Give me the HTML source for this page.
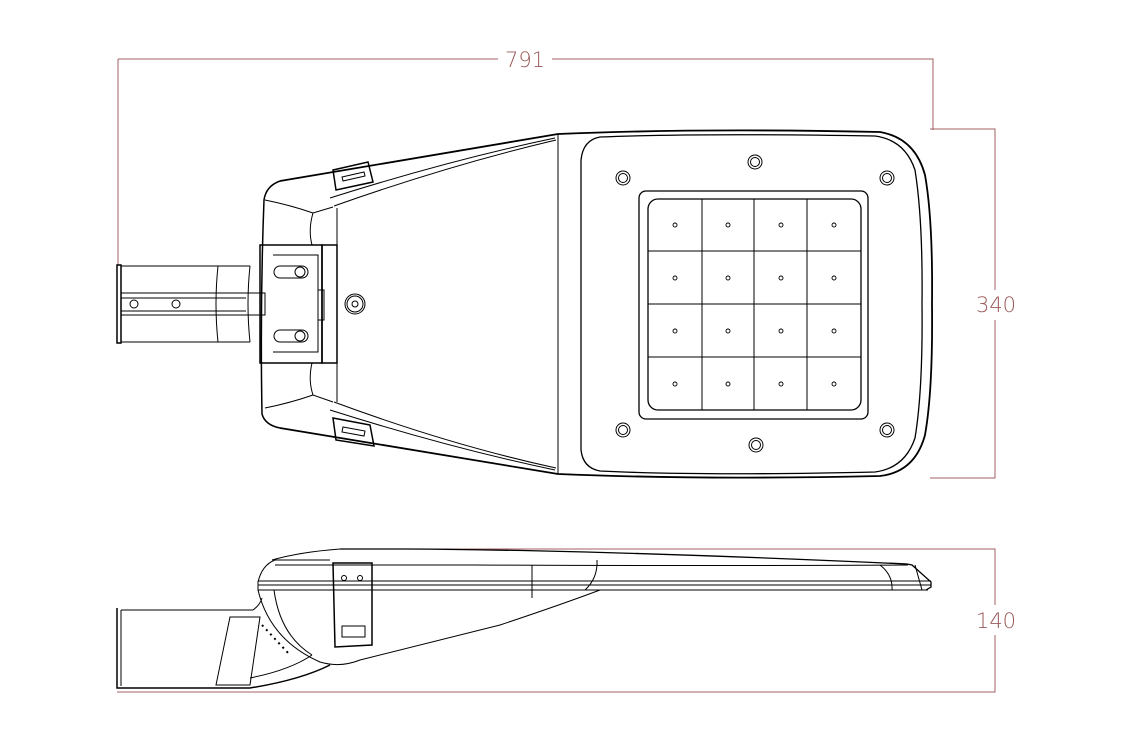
<!DOCTYPE html>
<html><head><meta charset="utf-8"><style>
html,body{margin:0;padding:0;background:#fff;}
svg{display:block;}
text{font-family:"DejaVu Sans","Liberation Sans",sans-serif;font-weight:200;fill:#9a5a5a;font-size:21px;}
</style></head><body>
<svg width="1146" height="742" viewBox="0 0 1146 742" xmlns="http://www.w3.org/2000/svg">
<g stroke="#a06060" stroke-width="1" fill="none">
 <path d="M118 59H498M552 59H933V130"/>
 <path d="M118 59V265"/>
 <path d="M930 129H995V290M995 320V478H930"/>
 <path d="M340 549H995V605M995 635V692H117"/>
</g>
<text x="525" y="67" text-anchor="middle">791</text>
<text x="996" y="312" text-anchor="middle">340</text>
<text x="996" y="628" text-anchor="middle">140</text>

<g stroke="#000" fill="none" stroke-width="1">
 <!-- top view housing -->
 <path d="M280 181 L558 134 Q700 128 880 132 Q915 138 925 175 Q933 220 932 304 Q933 390 925 435 Q915 472 880 476 Q700 480 558 474 L280 428" stroke-width="1.8"/>
 <path d="M280 181 Q266 186 264 200 Q260 304 262 414 Q265 425 280 428" stroke-width="1.5"/>
 <path d="M558 134 V474"/>
 <path d="M600 137 Q700 133 875 136 Q905 140 915 170 Q923 220 922 304 Q923 390 915 438 Q905 468 875 472 Q700 476 600 471 Q583 468 581 450 V160 Q583 140 600 137Z" stroke-width="1.3"/>
 <path d="M330 198 Q450 160 555 138"/><path d="M334 206 Q450 165 556 140"/>
 <path d="M330 410 Q450 448 555 470"/><path d="M334 402 Q450 445 556 468"/>
 <path d="M265 200 Q290 205 313 213 L333 207"/><path d="M313 213 Q308 230 312 245"/>
 <path d="M265 408 Q290 403 313 395 L333 402"/><path d="M313 395 Q308 380 312 363"/>
 <path d="M337 208 V245 M337 363 V402"/>
 <!-- clips -->
 <path d="M333 170 L368 162 L373 182 L336 190Z" stroke-width="1.5"/><path d="M342 177 L364 172 L365 176 L343 181Z"/>
 <path d="M333 418 L370 425 L374 446 L336 440Z" stroke-width="1.5"/><path d="M343 427 L365 431 L364 436 L342 432Z"/>
 <!-- mount -->
 <rect x="260" y="245" width="62" height="118" stroke-width="1.5"/>
 <rect x="322" y="245" width="15" height="118" stroke-width="1.5"/>
 <rect x="318" y="290" width="6" height="30"/>
 <path d="M273 255 H318 V352 H273"/>
 <rect x="274" y="266" width="34" height="12" rx="6"/><rect x="274" y="330" width="34" height="12" rx="6"/>
 <circle cx="300" cy="272" r="5"/><circle cx="300" cy="336" r="5"/>
 <circle cx="355" cy="304" r="10"/><circle cx="355" cy="304" r="8"/><circle cx="355" cy="304" r="3"/>
 <!-- pole -->
 <rect x="117" y="265" width="4" height="78" stroke-width="1.5"/>
 <path d="M121 266 H250 M121 342 H250 M121 293 H265 V315 H121"/>
 <path d="M121 298 H246 M121 311 H246"/>
 <path d="M218 266 Q214 304 218 342 M250 266 Q246 304 250 342"/>
 <circle cx="134" cy="304" r="4"/><circle cx="176" cy="304" r="4"/>
 <!-- LED module -->
 <rect x="639" y="191" width="229" height="228" rx="7" stroke-width="1.3"/>
 <rect x="648" y="199" width="213" height="211" rx="10" stroke-width="1.3"/>
 <path d="M702 199V410M754 199V410M807 199V410M648 251H861M648 304H861M648 357H861"/>
 <g stroke-width="0.9">
  <circle cx="675" cy="225" r="2"/><circle cx="728" cy="225" r="2"/><circle cx="781" cy="225" r="2"/><circle cx="834" cy="225" r="2"/>
  <circle cx="675" cy="278" r="2"/><circle cx="728" cy="278" r="2"/><circle cx="781" cy="278" r="2"/><circle cx="834" cy="278" r="2"/>
  <circle cx="675" cy="331" r="2"/><circle cx="728" cy="331" r="2"/><circle cx="781" cy="331" r="2"/><circle cx="834" cy="331" r="2"/>
  <circle cx="675" cy="384" r="2"/><circle cx="728" cy="384" r="2"/><circle cx="781" cy="384" r="2"/><circle cx="834" cy="384" r="2"/>
 </g>
 <g>
  <circle cx="623" cy="178" r="7"/><circle cx="623" cy="178" r="4.5"/>
  <circle cx="755" cy="162" r="7"/><circle cx="755" cy="162" r="4.5"/>
  <circle cx="887" cy="178" r="7"/><circle cx="887" cy="178" r="4.5"/>
  <circle cx="623" cy="430" r="7"/><circle cx="623" cy="430" r="4.5"/>
  <circle cx="756" cy="445" r="7"/><circle cx="756" cy="445" r="4.5"/>
  <circle cx="887" cy="430" r="7"/><circle cx="887" cy="430" r="4.5"/>
 </g>

 <!-- side view -->
 <path d="M340 549 H405 Q600 550 907 564 L912 565 L931 582 V587 L926 590" stroke-width="1.3"/>
 <path d="M272 560 Q300 552 340 549"/>
 <path d="M258 582 Q262 565 275 560 H330"/>
 <path d="M258 581 H931 M258 585 H931 M258 590 H928" stroke-width="1.1"/>
 <path d="M275 565 H475 Q700 566 908 565"/>
 <path d="M258 581 V590 Q270 640 320 662 Q340 668 360 660 L500 625 Q560 605 600 590"/>
 <path d="M274 590 Q280 635 312 655"/>
 <path d="M597 560 Q598 578 585 590"/>
 <path d="M532 565 V598"/>
 <path d="M333 563 L372 563 L372 645 L335 647 Z" stroke-width="1.5"/>
 <rect x="342" y="626" width="23" height="11"/>
 <circle cx="344" cy="578" r="2.5"/><circle cx="360" cy="578" r="2.5"/>
 <path d="M117 608 V688 H250 Q300 680 330 665" stroke-width="1.5"/>
 <path d="M121 610 V686"/><path d="M121 610 H253"/>
 <path d="M253 610 Q260 605 262 598"/>
 <path d="M230 617 L260 617 L250 685 L216 685 Z"/>
 <path d="M250 678 Q290 670 312 655"/>
 <path d="M262 625 L290 655" stroke-dasharray="2 4" stroke-width="2"/>
 <path d="M880 565 Q893 575 892 590 M915 565 L922 590"/>
</g>
</svg>
</body></html>
